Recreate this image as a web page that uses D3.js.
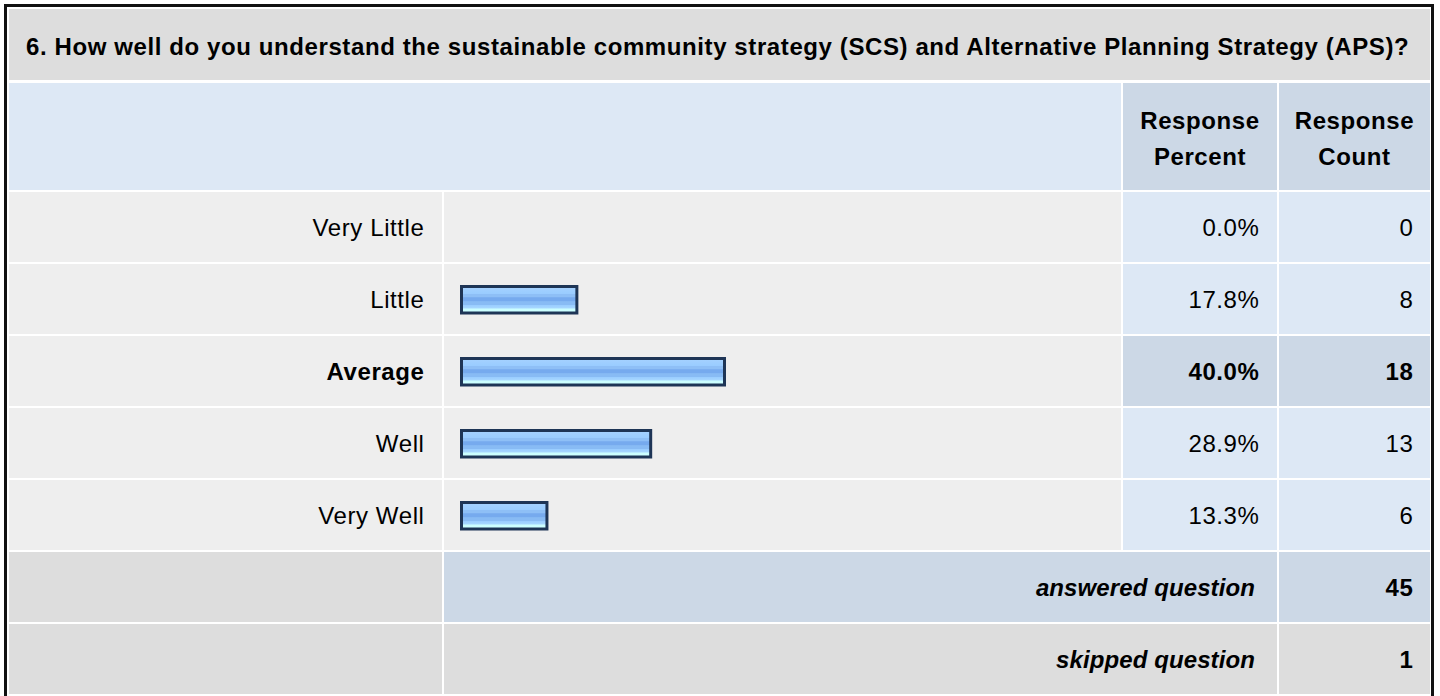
<!DOCTYPE html>
<html>
<head>
<meta charset="utf-8">
<script src="https://cdn.jsdelivr.net/npm/d3@7"></script>
<style>
  html, body { margin: 0; padding: 0; background: #ffffff; }
  svg { display: block; }
  text { font-family: "Liberation Sans", Arial, Helvetica, sans-serif; fill: #000; letter-spacing: 0.6px; }
  text.summary { letter-spacing: 0.1px; }
</style>
</head>
<body>
<svg id="chart" width="1440" height="696"></svg>
<script>
// ---- data ----
const questionTitle = "6. How well do you understand the sustainable community strategy (SCS) and Alternative Planning Strategy (APS)?";
const categories = ["Very Little", "Little", "Average", "Well", "Very Well"];
const percents = [0.0, 17.8, 40.0, 28.9, 13.3];
const counts = [0, 8, 18, 13, 6];
const headerPercent = ["Response", "Percent"];
const headerCount = ["Response", "Count"];
const summaryLabels = ["answered question", "skipped question"];
const summaryValues = [45, 1];

// ---- layout ----
const svg = d3.select("#chart");
const colX = [9, 444, 1123, 1279];
const colR = [442, 1121, 1277, 1430];
const pad = 17;

const defs = svg.append("defs");
const grad = defs.append("linearGradient").attr("id", "barGrad")
  .attr("x1", 0).attr("y1", 0).attr("x2", 0).attr("y2", 1);
[
  [0, "#a6d2ff"], [0.28, "#99ccff"], [0.3, "#8ebff6"], [0.4, "#8ebff6"],
  [0.42, "#76aaee"], [0.55, "#76aaee"], [0.57, "#88bbf4"], [0.68, "#88bbf4"],
  [0.7, "#99ccff"], [0.82, "#a8d8ff"], [0.84, "#ccffff"], [1, "#ccffff"]
].forEach(([o, c]) => grad.append("stop").attr("offset", o).attr("stop-color", c));

const cell = (x0, x1, y, h, fill) =>
  svg.append("rect").attr("x", x0).attr("y", y).attr("width", x1 - x0).attr("height", h).attr("fill", fill);

// title row
cell(9, 1430, 9, 71, "#dddddd");
svg.append("text").attr("x", 26).attr("y", 55)
  .attr("font-size", 24).attr("font-weight", "bold").text(questionTitle);

// header row
const headY = 83, headH = 107;
cell(colX[0], colR[1], headY, headH, "#dde8f5");
cell(colX[2], colR[2], headY, headH, "#ccd8e6");
cell(colX[3], colR[3], headY, headH, "#ccd8e6");
[[headerPercent, (colX[2] + colR[2]) / 2], [headerCount, (colX[3] + colR[3]) / 2]].forEach(([lines, cx]) => {
  svg.append("g").selectAll("text").data(lines).join("text")
    .attr("x", cx).attr("y", (d, i) => 128.5 + i * 36.5)
    .attr("text-anchor", "middle").attr("font-size", 24).attr("font-weight", "bold")
    .text(d => d);
});

// rows
const y = d3.scaleBand().domain(categories).range([191, 551]).paddingInner(2 / 72).paddingOuter(1 / 72);
const x = d3.scaleLinear().domain([0, 100]).range([460, 1125]);
const maxP = d3.max(percents);

const rows = svg.append("g").selectAll("g").data(categories).join("g")
  .attr("transform", d => `translate(0,${y(d)})`);
const bh = y.bandwidth();

rows.each(function (d, i) {
  const g = d3.select(this);
  const top = percents[i] === maxP;
  const addCell = (x0, x1, fill) => g.append("rect").attr("x", x0).attr("y", 0)
    .attr("width", x1 - x0).attr("height", bh).attr("fill", fill);
  addCell(colX[0], colR[0], "#eeeeee");
  addCell(colX[1], colR[1], "#eeeeee");
  addCell(colX[2], colR[2], top ? "#ccd8e6" : "#dde8f5");
  addCell(colX[3], colR[3], top ? "#ccd8e6" : "#dde8f5");

  g.append("text").attr("x", colR[0] - 17.5).attr("y", 43.5).attr("text-anchor", "end")
    .attr("font-size", 24).attr("font-weight", top ? "bold" : "normal").text(d);
  g.append("text").attr("x", colR[2] - 17.5).attr("y", 43.5).attr("text-anchor", "end")
    .attr("font-size", 24).attr("font-weight", top ? "bold" : "normal").text(percents[i].toFixed(1) + "%");
  g.append("text").attr("x", colR[3] - pad + 0.5).attr("y", 43.5).attr("text-anchor", "end")
    .attr("font-size", 24).attr("font-weight", top ? "bold" : "normal").text(counts[i]);

  if (percents[i] > 0) {
    g.append("rect")
      .attr("x", x(0) + 1.5).attr("y", 22.5)
      .attr("width", x(percents[i]) - x(0) - 3).attr("height", 26.5)
      .attr("fill", "url(#barGrad)")
      .attr("stroke", "#1e3556").attr("stroke-width", 3);
  }
});

// summary rows
const sumY = [552, 624];
const sumFill = [["#dddddd", "#ccd8e6", "#ccd8e6"], ["#dddddd", "#dddddd", "#dddddd"]];
summaryLabels.forEach((lab, i) => {
  const g = svg.append("g").attr("transform", `translate(0,${sumY[i]})`);
  g.append("rect").attr("x", colX[0]).attr("y", 0).attr("width", colR[0] - colX[0]).attr("height", 70).attr("fill", sumFill[i][0]);
  g.append("rect").attr("x", colX[1]).attr("y", 0).attr("width", colR[2] - colX[1]).attr("height", 70).attr("fill", sumFill[i][1]);
  g.append("rect").attr("x", colX[3]).attr("y", 0).attr("width", colR[3] - colX[3]).attr("height", 70).attr("fill", sumFill[i][2]);
  g.append("text").attr("class", "summary").attr("x", colR[2] - 22).attr("y", 44).attr("text-anchor", "end")
    .attr("font-size", 24).attr("font-weight", "bold").attr("font-style", "italic").text(lab);
  g.append("text").attr("x", colR[3] - pad + 0.5).attr("y", 44).attr("text-anchor", "end")
    .attr("font-size", 24).attr("font-weight", "bold").text(summaryValues[i]);
});

// outer border
svg.append("rect").attr("x", 5.5).attr("y", 5.5).attr("width", 1427).attr("height", 700)
  .attr("fill", "none").attr("stroke", "#111").attr("stroke-width", 3);
</script>
</body>
</html>
